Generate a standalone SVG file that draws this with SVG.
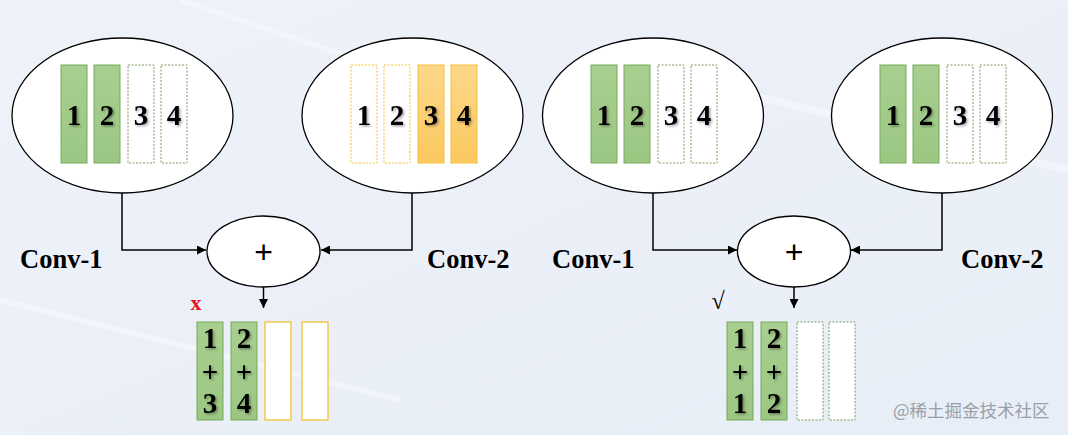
<svg xmlns="http://www.w3.org/2000/svg" width="1068" height="435" viewBox="0 0 1068 435">
<defs>
<linearGradient id="bg" x1="0" y1="0" x2="1" y2="1">
<stop offset="0" stop-color="#eef2f9"/><stop offset="1" stop-color="#e8eef7"/>
</linearGradient>
<linearGradient id="gr" x1="0" y1="0" x2="0" y2="1">
<stop offset="0" stop-color="#a8cf90"/><stop offset="1" stop-color="#9cc783"/>
</linearGradient>
<linearGradient id="og" x1="0" y1="0" x2="0" y2="1">
<stop offset="0" stop-color="#fdd88a"/><stop offset="1" stop-color="#fbc860"/>
</linearGradient>
<filter id="sh" x="-30%" y="-30%" width="160%" height="160%">
<feDropShadow dx="1.5" dy="1.5" stdDeviation="1" flood-color="#000" flood-opacity="0.35"/>
</filter>
<marker id="ah" viewBox="0 0 10 10" refX="10" refY="5" markerWidth="9" markerHeight="9" markerUnits="userSpaceOnUse" orient="auto">
<path d="M0,0 L10,5 L0,10 z" fill="#000"/>
</marker>
<style>
.ell{fill:#fff;stroke:#000;stroke-width:1.3}
.g{fill:url(#gr);stroke:#76a95a;stroke-width:1}
.o{fill:url(#og);stroke:#f2c232;stroke-width:1}
.gd{fill:#fff;stroke:#7c9c5e;stroke-width:1;stroke-dasharray:2 1.5}
.yd{fill:#fff;stroke:#f2c232;stroke-width:1;stroke-dasharray:2 1.5}
.ys{fill:#fff;stroke:#f2c232;stroke-width:1.3}
.n{font-family:"Liberation Serif",serif;font-weight:bold;font-size:29px;text-anchor:middle;fill:#000;filter:url(#sh)}
.lbl{font-family:"Liberation Serif",serif;font-weight:bold;font-size:26.5px;fill:#000}
.pl{font-family:"Liberation Sans",sans-serif;font-size:32px;text-anchor:middle;fill:#000}
.c{fill:none;stroke:#000;stroke-width:1.5}
</style>
</defs>
<rect width="1068" height="435" fill="url(#bg)"/>
<g opacity="0.35" stroke="#fff" fill="none">
<path d="M0,300 L400,400" stroke-width="6"/>
<path d="M600,60 L1068,170" stroke-width="8"/>
<path d="M180,0 L420,80" stroke-width="5"/>
</g>

<g id="conv1-left">
<ellipse class="ell" cx="122.5" cy="115.5" rx="110.5" ry="77.5"/>
<rect class="g" x="61" y="65" width="26" height="98"/>
<rect class="g" x="94" y="65" width="26" height="98"/>
<rect class="gd" x="128" y="65" width="26" height="98"/>
<rect class="gd" x="161" y="65" width="26" height="98"/>
<text class="n" x="74" y="125">1</text>
<text class="n" x="107" y="125">2</text>
<text class="n" x="141" y="125">3</text>
<text class="n" x="174" y="125">4</text>
</g>

<g id="conv2-left">
<ellipse class="ell" cx="412.5" cy="115.5" rx="110.5" ry="77.5"/>
<rect class="yd" x="351" y="65" width="26" height="98"/>
<rect class="yd" x="384" y="65" width="26" height="98"/>
<rect class="o" x="418" y="65" width="26" height="98"/>
<rect class="o" x="451" y="65" width="26" height="98"/>
<text class="n" x="364" y="125">1</text>
<text class="n" x="397" y="125">2</text>
<text class="n" x="431" y="125">3</text>
<text class="n" x="464" y="125">4</text>
</g>

<g id="conv1-right">
<ellipse class="ell" cx="653" cy="115.5" rx="110.5" ry="77.5"/>
<rect class="g" x="591" y="65" width="26" height="98"/>
<rect class="g" x="624" y="65" width="26" height="98"/>
<rect class="gd" x="658" y="65" width="26" height="98"/>
<rect class="gd" x="691" y="65" width="26" height="98"/>
<text class="n" x="604" y="125">1</text>
<text class="n" x="637" y="125">2</text>
<text class="n" x="671" y="125">3</text>
<text class="n" x="704" y="125">4</text>
</g>

<g id="conv2-right">
<ellipse class="ell" cx="942" cy="115.5" rx="110.5" ry="77.5"/>
<rect class="g" x="880" y="65" width="26" height="98"/>
<rect class="g" x="913" y="65" width="26" height="98"/>
<rect class="gd" x="947" y="65" width="26" height="98"/>
<rect class="gd" x="980" y="65" width="26" height="98"/>
<text class="n" x="893" y="125">1</text>
<text class="n" x="926" y="125">2</text>
<text class="n" x="960" y="125">3</text>
<text class="n" x="993" y="125">4</text>
</g>

<g id="plus-left">
<ellipse class="ell" cx="263.5" cy="251.5" rx="56.5" ry="35.5"/>
<text class="pl" x="263.5" y="263">+</text>
</g>
<g id="plus-right">
<ellipse class="ell" cx="794" cy="251.5" rx="56.5" ry="35.5"/>
<text class="pl" x="794" y="263">+</text>
</g>

<g id="connectors">
<path class="c" d="M122,193 V250 H206" marker-end="url(#ah)"/>
<path class="c" d="M412,193 V250 H321" marker-end="url(#ah)"/>
<path class="c" d="M263.5,287 V308" marker-end="url(#ah)"/>
<path class="c" d="M653,193 V250 H737" marker-end="url(#ah)"/>
<path class="c" d="M942,193 V250 H851" marker-end="url(#ah)"/>
<path class="c" d="M794,287 V308" marker-end="url(#ah)"/>
</g>

<g id="labels">
<text class="lbl" x="20" y="268">Conv-1</text>
<text class="lbl" x="427" y="268">Conv-2</text>
<text class="lbl" x="552" y="268">Conv-1</text>
<text class="lbl" x="961" y="268">Conv-2</text>
</g>

<g id="result-left">
<text x="196" y="310" font-family="Liberation Serif,serif" font-weight="bold" font-size="22" fill="#e8141e" text-anchor="middle">x</text>
<rect class="g" x="197" y="322" width="26" height="98"/>
<rect class="g" x="231" y="322" width="26" height="98"/>
<rect class="ys" x="265" y="322" width="26" height="98"/>
<rect class="ys" x="302" y="322" width="26" height="98"/>
<text class="n" x="210" y="348">1</text>
<text class="n" x="210" y="382">+</text>
<text class="n" x="210" y="413">3</text>
<text class="n" x="244" y="348">2</text>
<text class="n" x="244" y="382">+</text>
<text class="n" x="244" y="413">4</text>
</g>

<g id="result-right">
<text x="718" y="309" font-family="Liberation Serif,serif" font-size="24" fill="#000" text-anchor="middle">√</text>
<rect class="g" x="727" y="322" width="26" height="98"/>
<rect class="g" x="761" y="322" width="26" height="98"/>
<rect class="gd" x="797" y="322" width="26" height="98"/>
<rect class="gd" x="829" y="322" width="26" height="98"/>
<text class="n" x="740" y="348">1</text>
<text class="n" x="740" y="382">+</text>
<text class="n" x="740" y="413">1</text>
<text class="n" x="774" y="348">2</text>
<text class="n" x="774" y="382">+</text>
<text class="n" x="774" y="413">2</text>
</g>

<text x="893" y="417" font-family="Noto Sans CJK SC,sans-serif" font-size="17.5" fill="#9aa0a8">@稀土掘金技术社区</text>
</svg>
